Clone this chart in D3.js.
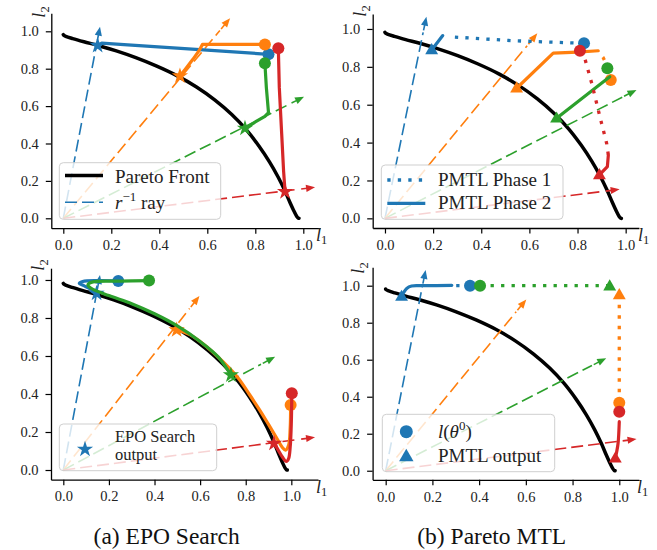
<!DOCTYPE html>
<html><head><meta charset="utf-8">
<script src="https://cdn.jsdelivr.net/npm/d3@7"></script>
<style>
body{margin:0;background:#fff}
svg{display:block}
</style>
</head><body><svg id="c" width="657" height="550"></svg>
<script>
// ---------------- data ----------------
const tickValues = [0, 0.2, 0.4, 0.6, 0.8, 1.0];
const seriesNames = ["blue", "orange", "green", "red"];
const colors = ["#1f77b4", "#ff7f0e", "#2ca02c", "#d62728"];
const captions = ["(a) EPO Search", "(b) Pareto MTL"];

const paretoFront = [[0.000,0.982],[0.0025,0.978],[0.010,0.973],[0.039,0.961],[0.086,0.944],[0.148,0.923],[0.221,0.895],[0.302,0.859],[0.387,0.815],[0.473,0.763],[0.555,0.702],[0.632,0.632],[0.702,0.555],[0.763,0.473],[0.815,0.387],[0.859,0.302],[0.895,0.221],[0.923,0.148],[0.944,0.086],[0.961,0.039],[0.973,0.010],[0.978,0.0025],[0.982,0.000]];

// top-left: EPO search, random initialisation
const epoRandRays = [[0.153,1.025],[0.695,1.070],[1.003,0.650],[1.049,0.166]];
const epoRandInit = [[0.855,0.877],[0.840,0.930],[0.840,0.829],[0.896,0.909]];
const epoRandPaths = [
  [[0.855,0.877],[0.60,0.899],[0.30,0.925],[0.16,0.937],[0.143,0.924]],
  [[0.840,0.930],[0.70,0.930],[0.580,0.930],[0.565,0.895],[0.54,0.85],[0.51,0.80],[0.486,0.761]],
  [[0.840,0.829],[0.846,0.70],[0.855,0.565],[0.84,0.545],[0.80,0.515],[0.757,0.481]],
  [[0.896,0.909],[0.90,0.70],[0.91,0.45],[0.918,0.25],[0.924,0.142]]
];
const epoRandOutputs = [[0.143,0.924],[0.486,0.761],[0.757,0.481],[0.924,0.142]];

// top-right: Pareto MTL, random initialisation
const pmtlRandRays = [[0.172,1.065],[0.633,0.977],[1.045,0.678],[0.975,0.153]];
const pmtlRandInit = [[0.827,0.924],[0.938,0.731],[0.924,0.792],[0.810,0.885]];
const pmtlRandPhase1 = [
  [[0.827,0.924],[0.533,0.938],[0.263,0.959]],
  [[0.938,0.731],[0.925,0.80],[0.906,0.85],[0.886,0.880]],
  [[0.924,0.792],[0.934,0.748]],
  [[0.810,0.885],[0.831,0.841],[0.859,0.713],[0.893,0.537],[0.921,0.396],[0.928,0.334]]
];
const pmtlRandPhase2 = [
  [[0.240,0.965],[0.194,0.889]],
  [[0.886,0.885],[0.80,0.878],[0.699,0.872],[0.547,0.687]],
  [[0.934,0.748],[0.713,0.528]],
  [[0.928,0.334],[0.924,0.273],[0.891,0.229]]
];
const pmtlRandOutputs = [[0.194,0.889],[0.547,0.687],[0.713,0.528],[0.891,0.229]];

// bottom-left: EPO search, fixed initialisation
const epoFixRays = [[0.161,1.026],[0.597,0.916],[0.929,0.596],[1.104,0.172]];
const epoFixInit = [[0.241,0.995],[0.997,0.342],[0.376,0.997],[1.002,0.404]];
const epoFixPaths = [
  [[0.241,0.995],[0.15,0.997],[0.085,0.992],[0.07,0.982],[0.09,0.970],[0.12,0.952],[0.146,0.930]],
  [[0.997,0.342],[0.995,0.22],[0.988,0.13],[0.975,0.105],[0.96,0.12],[0.935,0.17],[0.90,0.24],[0.86,0.318],[0.815,0.40],[0.765,0.487],[0.70,0.57],[0.632,0.645],[0.555,0.712],[0.497,0.737]],
  [[0.376,0.997],[0.25,0.994],[0.13,0.990],[0.108,0.975],[0.12,0.958],[0.20,0.918],[0.30,0.875],[0.40,0.822],[0.50,0.758],[0.60,0.676],[0.68,0.594],[0.735,0.500]],
  [[1.002,0.404],[1.0,0.25],[0.995,0.12],[0.988,0.06],[0.978,0.045],[0.96,0.07],[0.94,0.11],[0.924,0.140]]
];
const epoFixOutputs = [[0.146,0.930],[0.497,0.737],[0.735,0.500],[0.924,0.140]];

// bottom-right: Pareto MTL, fixed initialisation
const pmtlFixRays = [[0.171,1.085],[0.602,0.926],[0.944,0.608],[1.074,0.171]];
const pmtlFixInit = [[0.361,1.000],[1.000,0.368],[0.404,1.000],[1.000,0.319]];
const pmtlFixPhase1 = [
  [[0.361,1.000],[0.283,1.000]],
  [[1.000,0.368],[1.000,0.950]],
  [[0.404,1.000],[0.959,1.000]],
  [[1.000,0.319],[1.000,0.265]]
];
const pmtlFixPhase2 = [
  [[0.283,1.002],[0.15,1.000],[0.111,0.998],[0.09,0.985],[0.078,0.965],[0.068,0.941]],
  [],
  [],
  [[1.000,0.265],[0.995,0.15],[0.989,0.103],[0.983,0.067]]
];
const pmtlFixOutputs = [[0.068,0.941],[1.000,0.950],[0.959,0.997],[0.983,0.067]];

// ---------------- drawing ----------------
const FONT = "'Liberation Serif'";
const svg = d3.select('#c');
const starSym = d3.symbol().type(d3.symbolStar).size(82);
const triSym = d3.symbol().type(d3.symbolTriangle).size(72);

function drawPanel(cfg) {
  const x = d3.scaleLinear().domain(cfg.xd).range(cfg.xr);
  const y = d3.scaleLinear().domain(cfg.yd).range(cfg.yr);
  const g = svg.append('g');

  // Pareto front
  g.append('path').datum(paretoFront)
    .attr('d', d3.line().x(d => x(d[0])).y(d => y(d[1])).curve(d3.curveCatmullRom.alpha(0.5)))
    .attr('fill', 'none').attr('stroke', '#000').attr('stroke-width', 3.5).attr('stroke-linecap', 'round');

  // r^-1 rays
  cfg.rays.forEach((tip, i) => {
    const x0 = x(0), y0 = y(0), x1 = x(tip[0]), y1 = y(tip[1]);
    const dx = x1 - x0, dy = y1 - y0, len = Math.hypot(dx, dy), ux = dx / len, uy = dy / len;
    const L = 9, W = 3.6;
    const bx = x1 - ux * L, by = y1 - uy * L;
    g.append('line').attr('x1', x0).attr('y1', y0).attr('x2', bx - ux * 7).attr('y2', by - uy * 7)
      .attr('stroke', colors[i]).attr('stroke-width', 1.6).attr('stroke-dasharray', '12,5');
    g.append('line').attr('x1', bx - ux * 5).attr('y1', by - uy * 5).attr('x2', bx + ux).attr('y2', by + uy)
      .attr('stroke', colors[i]).attr('stroke-width', 1.6);
    g.append('path').attr('d', `M${x1},${y1}L${bx - uy * W},${by + ux * W}L${bx + uy * W},${by - ux * W}Z`)
      .attr('fill', colors[i]);
  });

  // trajectories + markers, per series
  const tl = d3.line().x(d => x(d[0])).y(d => y(d[1])).curve(cfg.smooth ? d3.curveCatmullRom.alpha(0.5) : d3.curveLinear);
  seriesNames.forEach((nm, i) => {
    if (cfg.phase1 && cfg.phase1[i].length)
      g.append('path').datum(cfg.phase1[i]).attr('d', tl).attr('fill', 'none')
        .attr('stroke', colors[i]).attr('stroke-width', 3.3).attr('stroke-dasharray', '3.3,7.2');
    if (cfg.paths[i].length)
      g.append('path').datum(cfg.paths[i]).attr('d', tl).attr('fill', 'none')
        .attr('stroke', colors[i]).attr('stroke-width', 3.2).attr('stroke-linejoin', 'round').attr('stroke-linecap', 'round');
    g.append('circle').attr('cx', x(cfg.init[i][0])).attr('cy', y(cfg.init[i][1])).attr('r', 6).attr('fill', colors[i]);
    const o = cfg.outputs[i];
    g.append('path').attr('d', cfg.marker === 'star' ? starSym() : triSym())
      .attr('transform', `translate(${x(o[0])},${y(o[1]) + (cfg.marker === 'star' ? 0 : 0.5)})`).attr('fill', colors[i]);
  });

  // legend
  const lg = g.append('g').style('font-family', FONT).attr('font-size', 19).attr('fill', '#222');
  lg.append('rect').attr('x', cfg.legend.box[0]).attr('y', cfg.legend.box[1]).attr('width', cfg.legend.box[2]).attr('height', cfg.legend.box[3])
    .attr('rx', 4).attr('fill', '#fff').attr('fill-opacity', 0.8).attr('stroke', '#cfcfcf').attr('stroke-width', 1);
  cfg.legend.draw(lg);

  // axes
  const ax = g.append('g').attr('transform', `translate(0,${cfg.yr[0]})`)
    .call(d3.axisBottom(x).tickValues(tickValues).tickFormat(d3.format('.1f')).tickSize(5.5).tickSizeOuter(0).tickPadding(6));
  const ay = g.append('g').attr('transform', `translate(${cfg.xr[0]},0)`)
    .call(d3.axisLeft(y).tickValues(tickValues).tickFormat(d3.format('.1f')).tickSize(5.5).tickSizeOuter(0).tickPadding(7));
  [ax, ay].forEach(a => {
    a.attr('font-size', 14.5);
    a.select('.domain').attr('stroke', '#000').attr('stroke-width', 1.3);
    a.selectAll('.tick line').attr('stroke', '#000').attr('stroke-width', 1.2);
    a.selectAll('.tick text').attr('fill', '#222').style('font-family', FONT);
  });

  // axis labels
  const l1 = g.append('text').attr('x', cfg.l1[0]).attr('y', cfg.l1[1]).attr('font-size', 18).attr('fill', '#222').style('font-family', FONT);
  l1.append('tspan').attr('font-style', 'italic').text('l');
  l1.append('tspan').attr('font-size', 12.5).attr('dy', 3.5).text('1');
  const l2 = g.append('text').attr('transform', `translate(${cfg.l2[0]},${cfg.l2[1]}) rotate(-90)`).attr('text-anchor', 'middle')
    .attr('font-size', 18).attr('fill', '#222').style('font-family', FONT);
  l2.append('tspan').attr('font-style', 'italic').text('l');
  l2.append('tspan').attr('font-size', 12.5).attr('dy', 3.5).text('2');
}

drawPanel({
  xd: [-0.05, 1.07], xr: [51.3, 320.1], yd: [-0.053, 1.096], yr: [228.2, 13.35],
  rays: epoRandRays, init: epoRandInit, paths: epoRandPaths, outputs: epoRandOutputs, marker: 'star',
  l1: [316, 240.5], l2: [45, 12],
  legend: { box: [59.3, 162.7, 161.4, 56.6], draw: lg => {
    lg.append('line').attr('x1', 65).attr('x2', 103).attr('y1', 175.5).attr('y2', 175.5).attr('stroke', '#000').attr('stroke-width', 3.5);
    lg.append('text').attr('x', 115).attr('y', 182.5).text('Pareto Front');
    lg.append('line').attr('x1', 65).attr('x2', 103).attr('y1', 202.3).attr('y2', 202.3).attr('stroke', colors[0]).attr('stroke-width', 1.6).attr('stroke-dasharray', '12,5');
    const t = lg.append('text').attr('x', 115).attr('y', 208.5);
    t.append('tspan').attr('font-style', 'italic').text('r');
    t.append('tspan').attr('font-size', 13).attr('dy', -8).text('\u22121');
    t.append('tspan').attr('dy', 8).text(' ray');
  } }
});

drawPanel({
  xd: [-0.051, 1.055], xr: [372.7, 638.9], yd: [-0.051, 1.079], yr: [228, 14],
  rays: pmtlRandRays, init: pmtlRandInit, phase1: pmtlRandPhase1, paths: pmtlRandPhase2, outputs: pmtlRandOutputs, marker: 'tri',
  l1: [638, 240.5], l2: [366, 11],
  legend: { box: [381.3, 165, 181.7, 54.3], draw: lg => {
    lg.append('line').attr('x1', 387.3).attr('x2', 425.3).attr('y1', 180).attr('y2', 180).attr('stroke', colors[0]).attr('stroke-width', 3.3).attr('stroke-dasharray', '3.3,7.2');
    lg.append('text').attr('x', 438).attr('y', 185.5).text('PMTL Phase 1');
    lg.append('line').attr('x1', 387.3).attr('x2', 425.3).attr('y1', 203.3).attr('y2', 203.3).attr('stroke', colors[0]).attr('stroke-width', 3.3);
    lg.append('text').attr('x', 438).attr('y', 209).text('PMTL Phase 2');
  } }
});

drawPanel({
  xd: [-0.054, 1.117], xr: [51, 318], yd: [-0.051, 1.062], yr: [479.7, 268.2],
  rays: epoFixRays, init: epoFixInit, paths: epoFixPaths, outputs: epoFixOutputs, marker: 'star', smooth: true,
  l1: [316, 492.5], l2: [44, 265],
  legend: { box: [59.3, 424, 157.4, 46.7], draw: lg => {
    lg.append('path').attr('d', starSym()).attr('transform', 'translate(85,449.3)').attr('fill', colors[0]);
    lg.append('text').attr('x', 115).attr('y', 441.5).attr('font-size', 16.5).text('EPO Search');
    lg.append('text').attr('x', 115).attr('y', 460).attr('font-size', 16.5).text('output');
  } }
});

drawPanel({
  xd: [-0.056, 1.084], xr: [372.6, 638.9], yd: [-0.049, 1.10], yr: [479.8, 267.2],
  rays: pmtlFixRays, init: pmtlFixInit, phase1: pmtlFixPhase1, paths: pmtlFixPhase2, outputs: pmtlFixOutputs, marker: 'tri', smooth: true,
  l1: [637, 492.5], l2: [364, 268],
  legend: { box: [382.3, 414.3, 172.4, 57.4], draw: lg => {
    lg.append('circle').attr('cx', 406.3).attr('cy', 431.7).attr('r', 6.5).attr('fill', colors[0]);
    lg.append('path').attr('d', d3.symbol().type(d3.symbolTriangle).size(90)()).attr('transform', 'translate(406.3,457)').attr('fill', colors[0]);
    const t = lg.append('text').attr('x', 438).attr('y', 438);
    t.append('tspan').attr('font-style', 'italic').text('l');
    t.append('tspan').text('(');
    t.append('tspan').attr('font-style', 'italic').text('\u03b8');
    t.append('tspan').attr('font-size', 13).attr('dy', -8).text('0');
    t.append('tspan').attr('dy', 8).text(')');
    lg.append('text').attr('x', 438).attr('y', 462).text('PMTL output');
  } }
});

// captions
svg.selectAll('text.caption').data(captions).enter().append('text').attr('class', 'caption')
  .attr('x', (d, i) => [166.7, 491.7][i]).attr('y', 544).attr('text-anchor', 'middle')
  .style('font-family', FONT).attr('font-size', 23.5).attr('fill', '#111').text(d => d);
</script>
</body></html>
